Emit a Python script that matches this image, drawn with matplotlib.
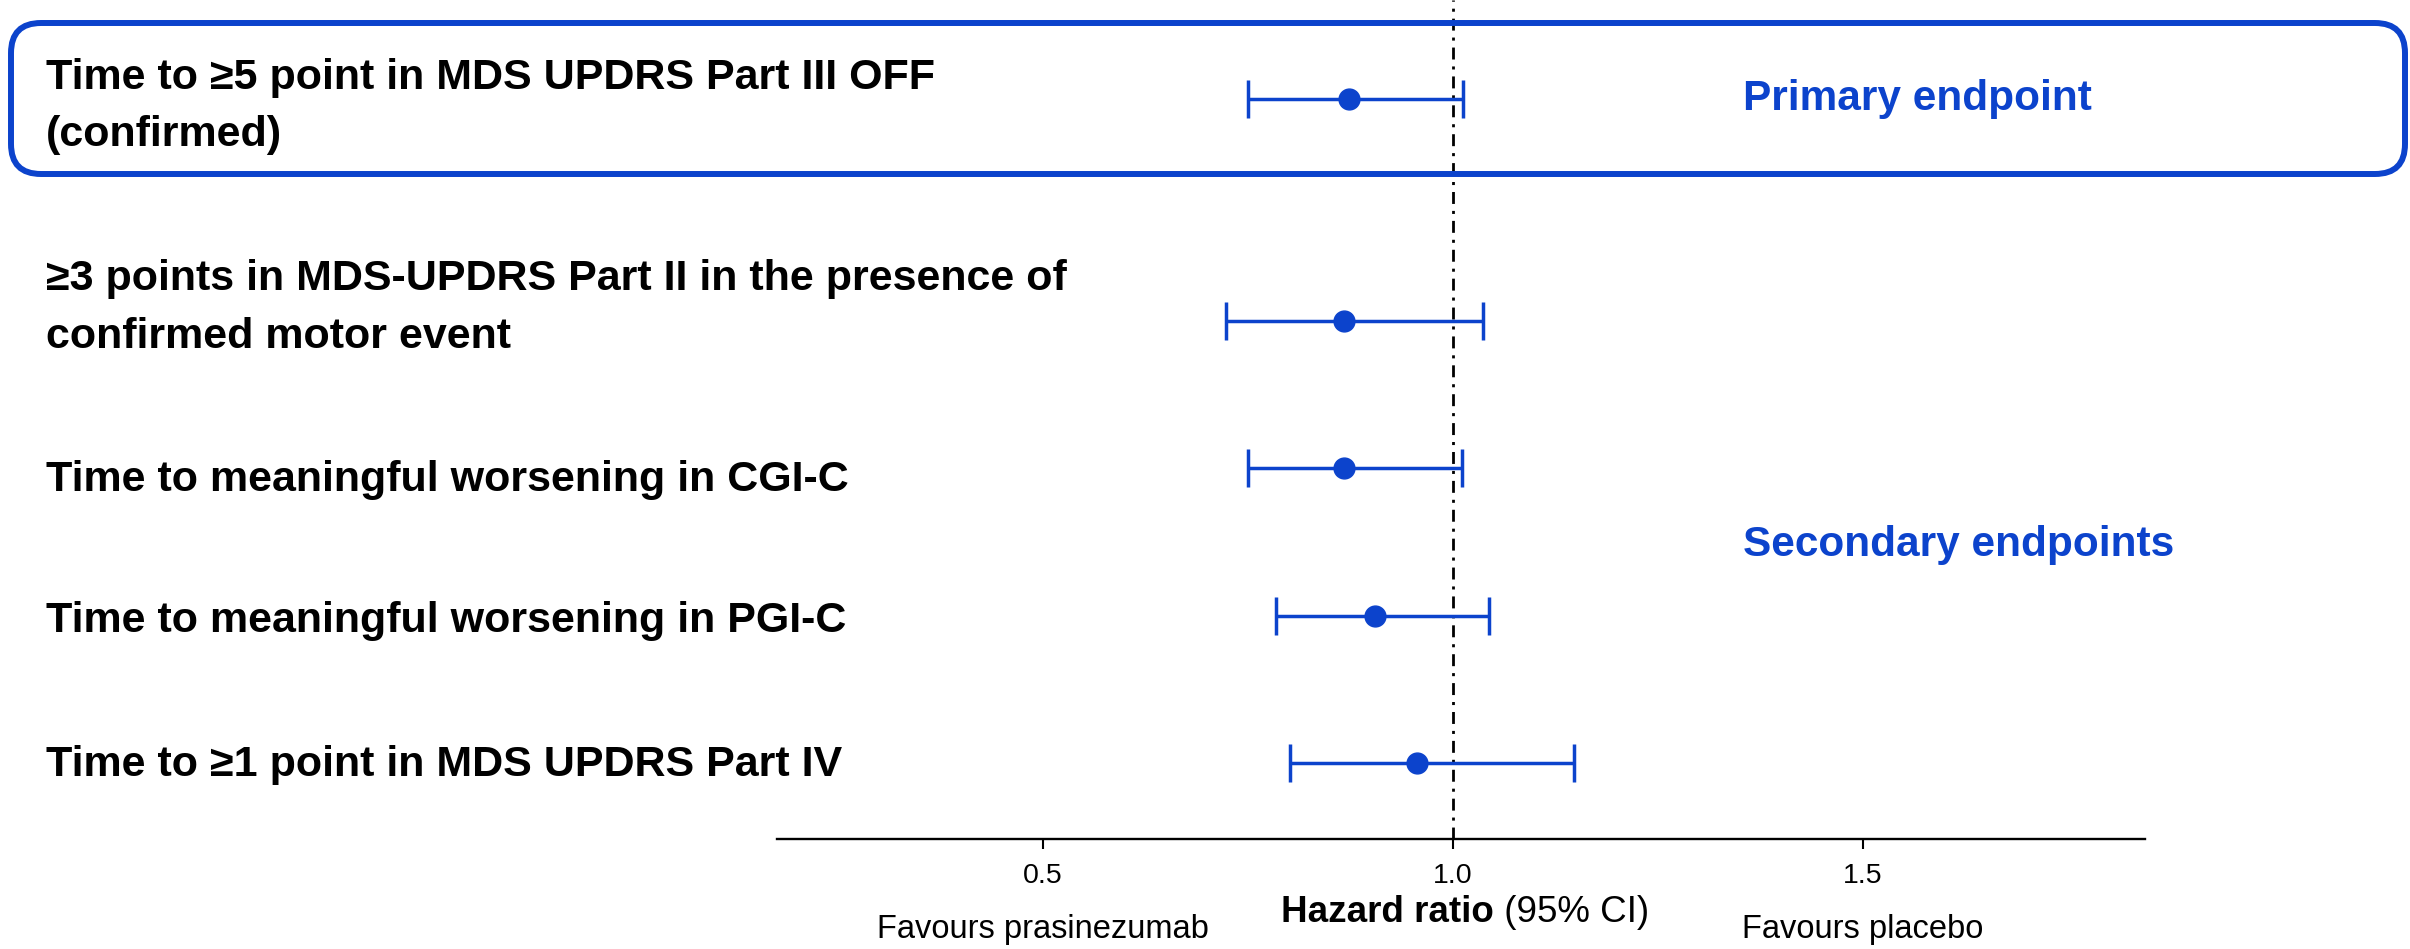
import matplotlib
matplotlib.use('Agg')
import matplotlib.pyplot as plt
from matplotlib.patches import FancyBboxPatch
from matplotlib.transforms import IdentityTransform, blended_transform_factory

plt.rcParams['font.family'] = ['Liberation Sans', 'DejaVu Sans']
plt.rcParams['lines.scale_dashes'] = False

BLUE = '#0C43CC'

labels = [
    'Time to \u22655 point in MDS UPDRS Part III OFF\n(confirmed)',
    '\u22653 points in MDS-UPDRS Part II in the presence of\nconfirmed motor event',
    'Time to meaningful worsening in CGI-C',
    'Time to meaningful worsening in PGI-C',
    'Time to \u22651 point in MDS UPDRS Part IV',
]
rows = [5.5, 4, 3, 2, 1]
hr = [0.873, 0.867, 0.867, 0.905, 0.956]
ci_low = [0.750, 0.724, 0.750, 0.784, 0.802]
ci_high = [1.013, 1.037, 1.011, 1.044, 1.148]
xticks = [0.5, 1.0, 1.5]
xtick_labels = ['0.5', '1.0', '1.5']
# small vertical nudges of the row labels relative to their rows (+ = up)
label_shift = [-0.05, 0.085, -0.08, -0.04, -0.01]

fig = plt.figure(figsize=(24.1, 9.49), dpi=100)
ax = fig.add_axes([0.3224, 0.1159, 0.5676, 0.8841])
ax.set_xlim(0.176, 1.844)
ax.set_ylim(0.485, 6.173)

xerr = [[h - lo for h, lo in zip(hr, ci_low)], [hi - h for h, hi in zip(hr, ci_high)]]
ax.errorbar(hr, rows, xerr=xerr, fmt='o', color=BLUE, ecolor=BLUE, markersize=15,
            elinewidth=2.5, capsize=13.7, capthick=2.5, zorder=3)
ax.axvline(1.0, color='black', lw=2.0, linestyle=(0, (8.6, 5, 2.2, 5)), zorder=2)

for s in ['top', 'right', 'left']:
    ax.spines[s].set_visible(False)
ax.spines['bottom'].set_linewidth(1.7)
ax.set_yticks([])
ax.set_xticks(xticks)
ax.set_xticklabels(xtick_labels, fontsize=20.5)
ax.tick_params(axis='x', length=7.2, width=1.5, pad=10)

# row labels on the left
lab_tr = blended_transform_factory(fig.transFigure, ax.transData)
for lab, y, dy in zip(labels, rows, label_shift):
    ax.text(46 / 2410, y + dy, lab, transform=lab_tr, ha='left', va='center',
            fontsize=31, fontweight='bold', linespacing=1.55, clip_on=False)

# group labels on the right
ax.text(1743 / 2410, 5.5, 'Primary endpoint', transform=lab_tr, ha='left', va='center',
        fontsize=30.5, fontweight='bold', color=BLUE)
ax.text(1743 / 2410, 2.48, 'Secondary endpoints', transform=lab_tr, ha='left', va='center',
        fontsize=30.5, fontweight='bold', color=BLUE)

# axis caption
xa = ax.get_xaxis_transform()
ax.text(1.05, -0.087, 'Hazard ratio', transform=xa, ha='right', va='center',
        fontsize=26.5, fontweight='bold', clip_on=False)
ax.text(1.05, -0.087, ' (95% CI)', transform=xa, ha='left', va='center',
        fontsize=26.5, clip_on=False)
ax.text(0.5, -0.118, 'Favours prasinezumab', transform=xa, ha='center', va='baseline',
        fontsize=23.5, clip_on=False)
ax.text(1.5, -0.118, 'Favours placebo', transform=xa, ha='center', va='baseline',
        fontsize=23.5, clip_on=False)

# rounded frame around the primary endpoint
box = FancyBboxPatch((11, 949 - 174), 2394, 151, boxstyle='round,pad=0,rounding_size=30',
                     transform=IdentityTransform(), fill=False, edgecolor=BLUE, linewidth=4.3)
fig.add_artist(box)

fig.savefig('out.png', dpi=100)
